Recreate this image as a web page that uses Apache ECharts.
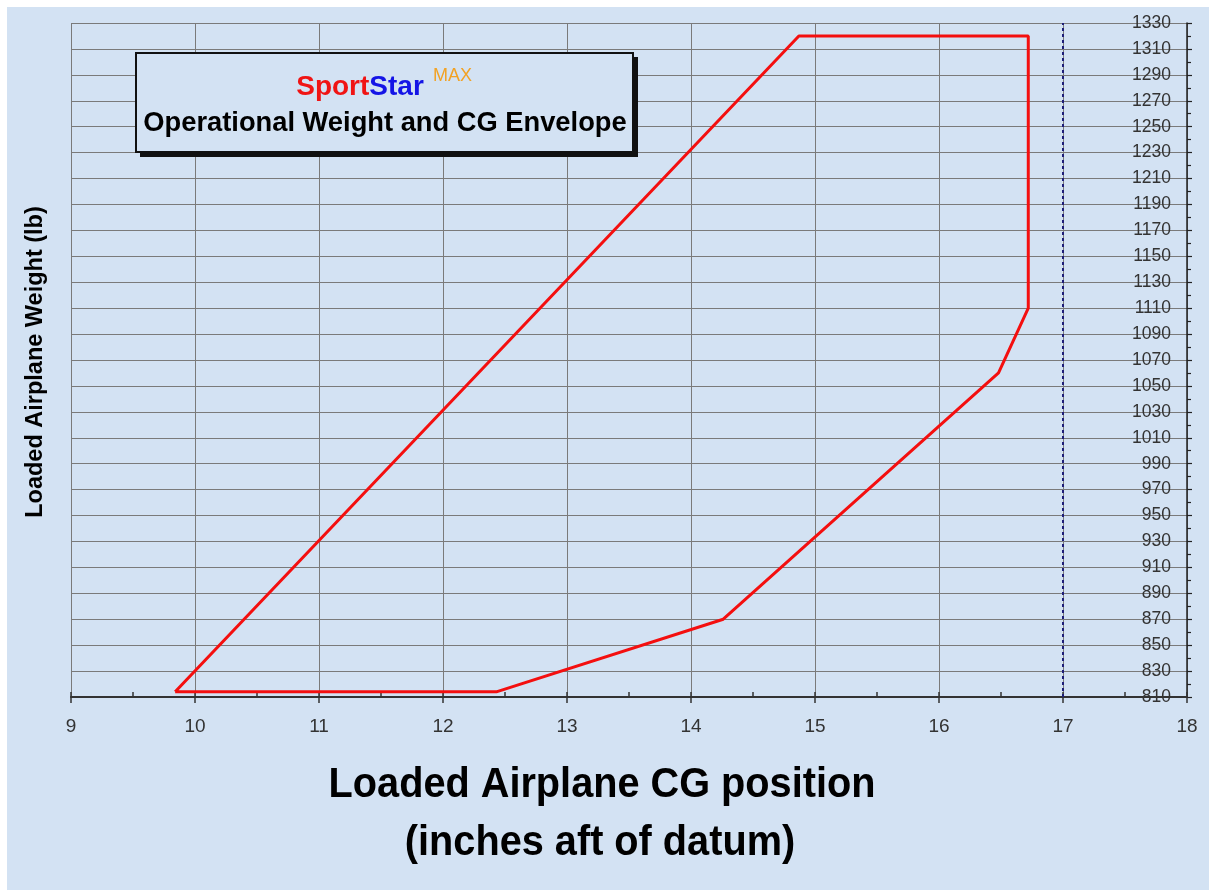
<!DOCTYPE html>
<html><head><meta charset="utf-8">
<script src="https://cdn.jsdelivr.net/npm/echarts@6/dist/echarts.min.js"></script>
<style>html,body{margin:0;padding:0;background:#fff}#c{width:1209px;height:890px}</style>
</head><body><div id="c"></div>
<script>
// Envelope vertices (CG position in inches aft of datum, loaded weight in lb)
const cgPosition = [9.84, 12.43, 14.26, 16.48, 16.72, 16.72, 14.87, 9.84];
const weightLb   = [814, 814, 870, 1060, 1110, 1320, 1320, 814];
const xMin = 9, xMax = 18, xStep = 1;
const yMin = 810, yMax = 1330, yStep = 20;
const aftLimit = 17;
const boxTitle1a = 'Sport', boxTitle1b = 'Star', boxTitleSup = 'MAX';
const boxTitle2 = 'Operational Weight and CG Envelope';
const xName1 = 'Loaded Airplane CG position';
const xName2 = '(inches aft of datum)';
const yName = 'Loaded Airplane Weight (lb)';

const envelope = cgPosition.map((x, i) => [x, weightLb[i]]);
const BG = '#d3e2f3';
const SANS = '"Liberation Sans", Arial, sans-serif';

const chart = echarts.init(document.getElementById('c'), null, {renderer: 'canvas'});
chart.setOption({
  backgroundColor: '#ffffff',
  animation: false,
  grid: {left: 71, right: 22, top: 23, bottom: 193, containLabel: false},
  graphic: [
    {type: 'rect', z: -10, silent: true, shape: {x: 7, y: 7, width: 1202, height: 883}, style: {fill: BG}},
    // legend box with shadow
    {type: 'rect', z: 50, shape: {x: 140, y: 57, width: 498, height: 100}, style: {fill: '#111'}},
    {type: 'rect', z: 51, shape: {x: 136, y: 53, width: 497, height: 99}, style: {fill: BG, stroke: '#111', lineWidth: 2}},
    {type: 'text', z: 52, x: 360, y: 87, style: {
      text: '{a|' + boxTitle1a + '}{b|' + boxTitle1b + '}',
      rich: {
        a: {fill: '#f01414', font: 'bold 28px ' + SANS},
        b: {fill: '#1414e6', font: 'bold 28px ' + SANS}
      },
      textVerticalAlign: 'middle', textAlign: 'center'}},
    {type: 'text', z: 52, x: 433, y: 76, style: {text: boxTitleSup, fill: '#f2a224', font: '18px ' + SANS, textVerticalAlign: 'middle', textAlign: 'left'}},
    {type: 'text', z: 52, x: 385, y: 123, style: {text: boxTitle2, fill: '#000', font: 'bold 27.3px ' + SANS, textVerticalAlign: 'middle', textAlign: 'center'}},
    // axis names
    {type: 'text', z: 20, x: 602, y: 785, scaleX: 0.945, style: {text: xName1, fill: '#000', font: 'bold 42px ' + SANS, textVerticalAlign: 'middle', textAlign: 'center'}},
    {type: 'text', z: 20, x: 600, y: 843, scaleX: 0.945, style: {text: xName2, fill: '#000', font: 'bold 42px ' + SANS, textVerticalAlign: 'middle', textAlign: 'center'}},
    {type: 'text', z: 20, x: 36, y: 362, rotation: Math.PI / 2, style: {text: yName, fill: '#000', font: 'bold 23.5px ' + SANS, textVerticalAlign: 'middle', textAlign: 'center'}}
  ],
  xAxis: [
    {
      type: 'value', min: xMin, max: xMax, interval: xStep, position: 'bottom',
      axisLine: {show: true, onZero: false, lineStyle: {color: '#333', width: 2}},
      axisTick: {show: true, inside: false, length: 6, lineStyle: {color: '#333', width: 1.5}},
      axisLabel: {show: true, margin: 20, fontSize: 19, fontFamily: SANS, color: '#333'},
      splitLine: {show: true, lineStyle: {color: '#7a7a7a', width: 1}}
    },
    {
      type: 'value', min: xMin, max: xMax, interval: xStep / 2, position: 'bottom',
      axisLine: {show: false, onZero: false},
      axisTick: {show: true, inside: true, length: 5, lineStyle: {color: '#333', width: 1.5}},
      axisLabel: {show: false},
      splitLine: {show: false}
    }
  ],
  yAxis: {
    type: 'value', min: yMin, max: yMax, interval: yStep, position: 'right',
    axisLine: {show: true, onZero: false, lineStyle: {color: '#222', width: 1.5}},
    axisTick: {show: true, inside: false, length: 5, lineStyle: {color: '#222', width: 1.2}},
    minorTick: {show: true, splitNumber: 2, length: 4, lineStyle: {color: '#222', width: 1.2}},
    axisLabel: {show: true, inside: true, margin: 16, fontSize: 17.5, fontFamily: SANS, color: '#333',
      formatter: v => String(v)},
    splitLine: {show: true, lineStyle: {color: '#7a7a7a', width: 1}}
  },
  series: [{
    type: 'line', xAxisIndex: 0, data: envelope, showSymbol: false, symbol: 'none',
    lineStyle: {color: '#f40f0f', width: 3}, z: 10, silent: true,
    markLine: {
      silent: true, symbol: 'none', label: {show: false},
      lineStyle: {color: '#1e1e78', width: 2, type: [3, 3]},
      data: [{xAxis: aftLimit}]
    }
  }]
});
</script>
</body></html>
